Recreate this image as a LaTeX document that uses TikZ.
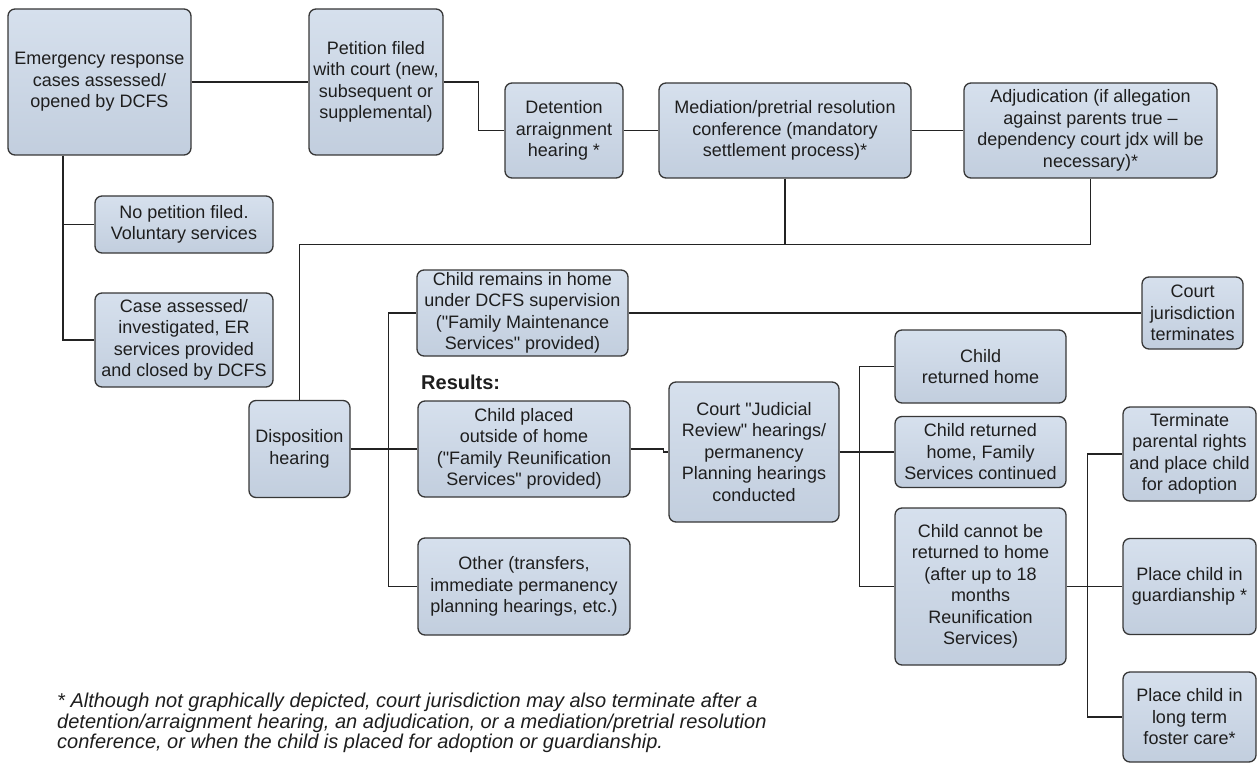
\documentclass[tikz,border=0pt]{standalone}
\usepackage{fontspec}
\setmainfont{Liberation Sans}[Ligatures=TeXOff]
\definecolor{boxtop}{RGB}{214,224,237}
\definecolor{boxbot}{RGB}{194,206,222}
\definecolor{boxline}{RGB}{55,55,55}
\definecolor{wirecol}{RGB}{35,35,35}
\definecolor{ink}{RGB}{30,30,30}
\tikzset{
  stage/.style={draw=boxline, line width=1.3pt, rounded corners=7pt,
    top color=boxtop, bottom color=boxbot, align=center, inner sep=0pt,
    text=ink, font=\fontsize{18}{21.5}\selectfont},
  wire/.style={draw=wirecol, line width=1.3pt},
}
\begin{document}
\begin{tikzpicture}[x=1pt, y=-1pt]
\useasboundingbox (0,0) rectangle (1257,767);

% top row: intake and court steps
\node[stage, minimum width=183pt, minimum height=146pt] (er) at (99.5,82)
  {Emergency response\\cases assessed/\\opened by DCFS};
\node[stage, minimum width=134pt, minimum height=146pt] (pet) at (376,82)
  {Petition filed\\with court (new,\\subsequent or\\supplemental)};
\node[stage, minimum width=118pt, minimum height=95pt] (det) at (564,130.5)
  {Detention\\arraignment\\hearing *};
\node[stage, minimum width=252pt, minimum height=95pt] (med) at (785,130.5)
  {Mediation/pretrial resolution\\conference (mandatory\\settlement process)*};
\node[stage, minimum width=253pt, minimum height=95pt] (adj) at (1090.5,130.5)
  {Adjudication (if allegation\\against parents true –\\dependency court jdx will be\\necessary)*};

% branches without a petition
\node[stage, minimum width=178pt, minimum height=57pt] (nop) at (184,224.5)
  {No petition filed.\\Voluntary services};
\node[stage, minimum width=178pt, minimum height=94pt] (cas) at (184,340)
  {Case assessed/\\investigated, ER\\services provided\\and closed by DCFS};

% disposition and its results
\node[stage, minimum width=101pt, minimum height=97pt] (dis) at (299.5,449)
  {Disposition\\hearing};
\node[stage, minimum width=211pt, minimum height=86pt] (rem) at (522.5,313)
  {Child remains in home\\under DCFS supervision\\("Family Maintenance\\Services" provided)};
\node[stage, minimum width=101pt, minimum height=72pt] (crt) at (1192.5,313)
  {Court\\jurisdiction\\terminates};
\node[font=\fontsize{20}{24}\selectfont\bfseries, text=ink, anchor=west, inner sep=0pt] (res) at (421,382)
  {Results:};
\node[stage, minimum width=212pt, minimum height=96pt] (pla) at (524,449)
  {Child placed\\outside of home\\("Family Reunification\\Services" provided)};
\node[stage, minimum width=212pt, minimum height=97pt] (oth) at (524,586.5)
  {Other (transfers,\\immediate permanency\\planning hearings, etc.)};

% review hearings and outcomes
\node[stage, minimum width=170pt, minimum height=140pt] (cjr) at (754,452)
  {Court "Judicial\\Review" hearings/\\permanency\\Planning hearings\\conducted};
\node[stage, minimum width=171pt, minimum height=73pt] (crh) at (980.5,366.5)
  {Child\\returned home};
\node[stage, minimum width=171pt, minimum height=71pt] (crf) at (980.5,452)
  {Child returned\\home, Family\\Services continued};
\node[stage, minimum width=171pt, minimum height=157pt] (ccn) at (980.5,586.5)
  {Child cannot be\\returned to home\\(after up to 18\\months\\Reunification\\Services)};

% permanent plans
\node[stage, minimum width=133pt, minimum height=94pt] (ter) at (1189.5,454)
  {Terminate\\parental rights\\and place child\\for adoption};
\node[stage, minimum width=133pt, minimum height=96pt] (gua) at (1189.5,586.5)
  {Place child in\\guardianship *};
\node[stage, minimum width=133pt, minimum height=90pt] (fos) at (1189.5,717)
  {Place child in\\long term\\foster care*};

% footnote
\node[anchor=north west, align=left, inner sep=0pt, text=ink,
      font=\fontsize{20}{20.5}\selectfont\itshape] (note) at (57,693)
  {* Although not graphically depicted, court jurisdiction may also terminate after a\\
   detention/arraignment hearing, an adjudication, or a mediation/pretrial resolution\\
   conference, or when the child is placed for adoption or guardianship.};

% connectors
\draw[wire] (er.east) -- (pet.west);
\draw[wire] (pet.east) -- ++(35,0) |- (det.west);
\draw[wire] (det.east) -- (med.west);
\draw[wire] (med.east) -- (adj.west);
\draw[wire] ([xshift=-36.5pt]er.south) |- (nop.west);
\draw[wire] ([xshift=-36.5pt]er.south) |- (cas.west);
\draw[wire] (adj.south) -- ++(0,66) -| (dis.north);
\draw[wire] (med.south) -- ++(0,66);
\draw[wire] (dis.east) -- ++(38,0) coordinate (j1);
\draw[wire] (j1) |- (rem.west);
\draw[wire] (j1) |- (oth.west);
\draw[wire] (j1) -- (pla.west);
\draw[wire] (rem.east) -- (crt.west);
\draw[wire] (pla.east) -- ++(33,0) |- (cjr.west);
\draw[wire] (cjr.east) -- ++(20,0) coordinate (j2);
\draw[wire] (j2) |- (crh.west);
\draw[wire] (j2) |- (ccn.west);
\draw[wire] (j2) -- (crf.west);
\draw[wire] (ccn.east) -- ++(21,0) coordinate (j3);
\draw[wire] (j3) |- (ter.west);
\draw[wire] (j3) |- (fos.west);
\draw[wire] (j3) -- (gua.west);
\end{tikzpicture}
\end{document}
